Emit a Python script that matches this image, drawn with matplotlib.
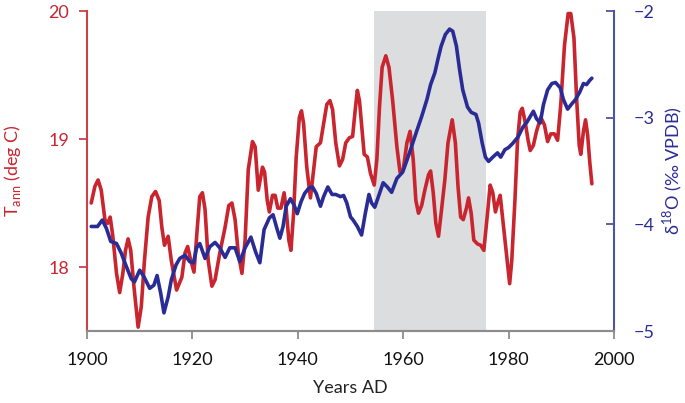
import matplotlib

matplotlib.use("Agg")
import matplotlib.pyplot as plt

# annual temperature (left axis)
T_YEARS = [1900.8, 1901.5, 1902.1, 1902.7, 1903.4, 1903.9, 1904.4, 1904.9, 1905.6, 1906.2,
           1906.8, 1907.3, 1907.8, 1908.3, 1908.9, 1909.7, 1910.3, 1910.9, 1911.6, 1912.3,
           1913.0, 1913.7, 1914.2, 1914.7, 1915.4, 1916.0, 1917.0, 1918.0, 1918.6, 1919.1,
           1919.7, 1920.3, 1920.9, 1921.4, 1921.9, 1922.4, 1923.0, 1923.7, 1924.3, 1925.2,
           1926.2, 1926.9, 1927.5, 1928.1, 1928.7, 1929.4, 1930.0, 1930.6, 1931.4, 1931.9,
           1932.5, 1933.3, 1933.7, 1934.2, 1934.6, 1935.2, 1935.7, 1936.2, 1936.8, 1937.4,
           1937.8, 1938.3, 1938.7, 1939.2, 1939.7, 1940.3, 1940.7, 1941.1, 1941.7, 1942.4,
           1943.0, 1943.5, 1944.3, 1944.9, 1945.5, 1946.1, 1946.6, 1947.2, 1947.9, 1948.5,
           1949.1, 1949.8, 1950.4, 1950.9, 1951.3, 1951.7, 1952.2, 1952.6, 1953.2, 1953.8,
           1954.5, 1955.0, 1955.5, 1956.0, 1956.7, 1957.3, 1958.0, 1958.8, 1959.4, 1960.0,
           1960.7, 1961.3, 1961.9, 1962.4, 1962.9, 1963.5, 1964.1, 1964.8, 1965.2, 1965.7,
           1966.2, 1966.7, 1967.2, 1967.9, 1968.5, 1969.3, 1969.9, 1970.4, 1970.9, 1971.4,
           1972.0, 1972.4, 1972.9, 1973.4, 1974.1, 1974.7, 1975.3, 1976.0, 1976.5, 1977.0,
           1977.5, 1978.0, 1978.4, 1978.9, 1979.6, 1980.2, 1980.6, 1981.2, 1981.7, 1982.2,
           1982.6, 1983.2, 1983.7, 1984.1, 1984.7, 1985.3, 1986.1, 1986.8, 1987.4, 1988.0,
           1988.7, 1989.3, 1989.9, 1990.6, 1991.3, 1991.8, 1992.4, 1992.9, 1993.4, 1993.7,
           1994.2, 1994.6, 1995.0, 1995.4, 1995.8]
T_ANN = [18.50, 18.63, 18.68, 18.60, 18.37, 18.34, 18.39, 18.24, 17.95, 17.80,
         17.95, 18.13, 18.22, 18.13, 17.85, 17.53, 17.69, 18.05, 18.39, 18.55,
         18.59, 18.52, 18.31, 18.17, 18.24, 18.05, 17.82, 17.92, 18.11, 18.16,
         18.05, 17.96, 18.29, 18.55, 18.58, 18.45, 18.05, 17.85, 17.90, 18.11,
         18.31, 18.48, 18.50, 18.37, 18.11, 17.95, 18.21, 18.76, 18.98, 18.94,
         18.60, 18.78, 18.74, 18.52, 18.43, 18.56, 18.56, 18.46, 18.46, 18.58,
         18.45, 18.21, 18.13, 18.42, 18.86, 19.17, 19.22, 19.12, 18.78, 18.54,
         18.76, 18.94, 18.97, 19.12, 19.27, 19.30, 19.23, 18.97, 18.79, 18.84,
         18.97, 19.01, 19.02, 19.23, 19.38, 19.30, 19.07, 18.88, 18.86, 18.73,
         18.64, 18.84, 19.25, 19.56, 19.65, 19.56, 19.30, 18.94, 18.74, 18.76,
         18.97, 19.06, 18.84, 18.52, 18.42, 18.48, 18.60, 18.72, 18.75, 18.58,
         18.34, 18.24, 18.42, 18.68, 18.97, 19.15, 18.97, 18.63, 18.39, 18.37,
         18.46, 18.54, 18.42, 18.21, 18.18, 18.17, 18.13, 18.42, 18.64, 18.58,
         18.43, 18.51, 18.56, 18.37, 18.11, 17.87, 18.05, 18.52, 18.99, 19.21,
         19.24, 19.12, 18.99, 18.91, 18.95, 19.06, 19.17, 19.11, 18.98, 19.04,
         19.04, 18.99, 19.27, 19.73, 19.98, 19.98, 19.79, 19.32, 18.95, 18.88,
         19.06, 19.15, 19.03, 18.82, 18.65]

# d18O (right axis)
D_YEARS = [1900.8, 1902.0, 1902.9, 1903.7, 1904.5, 1905.6, 1906.5, 1907.5, 1908.4, 1909.0,
           1910.0, 1910.8, 1911.9, 1912.7, 1913.3, 1914.0, 1914.6, 1915.4, 1916.0, 1916.9,
           1917.6, 1918.6, 1919.5, 1920.2, 1920.8, 1921.4, 1922.4, 1923.3, 1924.3, 1925.2,
           1926.2, 1927.1, 1928.1, 1929.0, 1930.0, 1931.1, 1932.0, 1932.8, 1933.6, 1934.6,
           1935.3, 1936.1, 1936.6, 1937.2, 1937.8, 1938.6, 1939.3, 1939.9, 1940.6, 1941.3,
           1942.1, 1942.8, 1943.5, 1944.3, 1944.9, 1945.7, 1946.5, 1947.2, 1948.1, 1948.7,
           1949.3, 1950.0, 1950.5, 1951.3, 1952.1, 1952.8, 1953.5, 1954.0, 1954.6, 1955.3,
           1956.2, 1957.0, 1957.8, 1958.8, 1959.9, 1960.7, 1961.6, 1962.6, 1963.5, 1964.5,
           1965.2, 1966.0, 1966.6, 1967.2, 1968.0, 1968.8, 1969.4, 1970.1, 1970.7, 1971.3,
           1972.2, 1972.9, 1973.8, 1974.3, 1975.0, 1975.6, 1976.2, 1977.0, 1977.9, 1978.5,
           1979.3, 1980.0, 1980.8, 1981.8, 1982.7, 1983.5, 1984.7, 1985.3, 1986.0, 1986.6,
           1987.4, 1988.2, 1988.9, 1989.8, 1990.4, 1991.2, 1992.0, 1992.7, 1993.5, 1994.2,
           1994.8, 1995.4, 1995.8]
D18O = [-4.02, -4.02, -3.96, -4.04, -4.16, -4.18, -4.27, -4.40, -4.51, -4.54,
        -4.43, -4.49, -4.60, -4.57, -4.48, -4.65, -4.83, -4.68, -4.52, -4.38,
        -4.32, -4.29, -4.35, -4.36, -4.22, -4.18, -4.32, -4.21, -4.17, -4.22,
        -4.31, -4.22, -4.22, -4.35, -4.22, -4.12, -4.26, -4.36, -4.05, -3.94,
        -3.91, -4.05, -4.13, -4.02, -3.83, -3.76, -3.82, -3.90, -3.79, -3.71,
        -3.66, -3.65, -3.71, -3.83, -3.74, -3.65, -3.72, -3.72, -3.74, -3.73,
        -3.80, -3.93, -3.96, -4.02, -4.10, -3.90, -3.72, -3.80, -3.84, -3.74,
        -3.61, -3.65, -3.70, -3.57, -3.51, -3.40, -3.27, -3.12, -2.99, -2.83,
        -2.69, -2.58, -2.45, -2.33, -2.22, -2.17, -2.19, -2.33, -2.55, -2.74,
        -2.90, -2.95, -2.97, -3.05, -3.24, -3.37, -3.41, -3.37, -3.33, -3.37,
        -3.30, -3.28, -3.24, -3.18, -3.09, -3.04, -2.94, -3.01, -3.05, -2.88,
        -2.74, -2.68, -2.67, -2.72, -2.83, -2.92, -2.87, -2.83, -2.76, -2.68,
        -2.69, -2.65, -2.63]

SHADE = (1954.5, 1975.7)

RED = "#C9252F"
BLUE = "#2A2C96"
RED_AX = "#C8434B"
BLUE_AX = "#50559F"

plt.rcParams["font.family"] = ["Lato", "DejaVu Sans"]
plt.rcParams["font.size"] = 13

fig = plt.figure(figsize=(6.85, 4.03), dpi=100)
ax = fig.add_axes([87 / 685, 1 - 331 / 403, 527 / 685, 320 / 403])
ax2 = ax.twinx()

ax.axvspan(*SHADE, color="#DCDDDF", lw=0, zorder=0)
ax.plot(T_YEARS, T_ANN, color=RED, lw=2.6, solid_joinstyle="round", solid_capstyle="round", zorder=3)
ax2.plot(D_YEARS, D18O, color=BLUE, lw=2.6, solid_joinstyle="round", solid_capstyle="round", zorder=3)

ax.set_xlim(1900, 2000)
ax.set_ylim(17.5, 20)
ax2.set_ylim(-5, -2)
ax.set_xticks(range(1900, 2001, 20))
ax.set_yticks([18, 19, 20])
ax2.set_yticks([-5, -4, -3, -2])

for a in (ax, ax2):
    a.spines["top"].set_visible(False)
    a.spines["bottom"].set_color("#8C8C8C")
    a.spines["bottom"].set_linewidth(1.5)
ax.spines["right"].set_visible(False)
ax2.spines["left"].set_visible(False)
ax.spines["left"].set_color(RED_AX)
ax.spines["left"].set_linewidth(1.5)
ax2.spines["right"].set_color(BLUE_AX)
ax2.spines["right"].set_linewidth(1.5)

ax.tick_params(axis="x", colors="#8C8C8C", labelcolor="#111111", length=6, width=1.3, pad=9)
ax.tick_params(axis="y", colors=RED_AX, labelcolor=RED, length=6, width=1.3, pad=7)
ax2.tick_params(axis="y", colors=BLUE_AX, labelcolor=BLUE, direction="in", length=6, width=1.3, pad=14)

ax.set_xlabel("Years AD", color="#222222", labelpad=9)
ax.set_ylabel(r"T$_{\mathregular{ann}}$ (deg C)", color=RED, labelpad=18)
ax2.set_ylabel(r"δ$^{\mathregular{18}}$O (‰ VPDB)", color=BLUE, labelpad=5)

fig.savefig("out.png", dpi=100)
